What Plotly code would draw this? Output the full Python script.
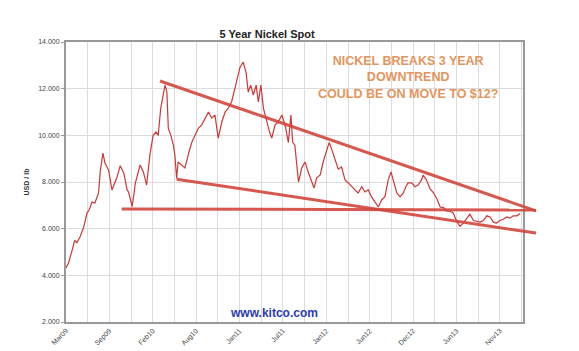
import plotly.graph_objects as go

# trading-day index since early Mar 2009
day_idx = [0, 7, 17, 24, 30, 39, 49, 58, 64, 72, 80, 90, 95, 102, 108, 118, 127, 135, 141, 150,
           160, 169, 173, 183, 192, 201, 205, 214, 223, 232, 241, 249, 255, 262, 269, 274, 279, 283,
           290, 297, 301, 306, 310, 320, 329, 338, 348, 357, 366, 375, 384, 394, 403, 412, 421, 431,
           440, 449, 458, 463, 472, 481, 490, 498, 504, 511, 518, 526, 532, 539, 546, 555, 563, 569,
           578, 587, 597, 606, 615, 622, 627, 633, 638, 643, 652, 661, 670, 680, 686, 693, 703, 712,
           721, 728, 735, 744, 753, 762, 772, 781, 790, 799, 808, 818, 827, 836, 845, 855, 864, 873,
           882, 891, 899, 905, 915, 924, 933, 940, 946, 956, 965, 974, 983, 988, 997, 1007, 1016,
           1025, 1035, 1044, 1053, 1062, 1071, 1081, 1090, 1099, 1108, 1117, 1127, 1136, 1145, 1154,
           1164, 1173, 1182, 1191, 1200, 1209, 1219, 1228, 1237, 1247, 1256]
price = [4.31, 4.53, 5.08, 5.5, 5.4, 5.65, 6.07, 6.67, 6.8, 7.14, 7.1, 7.53, 8.5, 9.24, 8.8, 8.5,
         7.66, 7.96, 8.2, 8.7, 8.38, 7.66, 7.57, 6.95, 7.96, 8.5, 8.73, 8.43, 7.87, 9.16, 10.0, 10.14,
         10.0, 11.17, 11.73, 12.15, 11.86, 10.3, 10.0, 9.58, 9.16, 8.15, 8.86, 8.73, 8.6, 9.16, 9.7,
         10.0, 10.3, 10.44, 10.74, 11.0, 10.74, 10.87, 9.88, 10.57, 11.0, 11.17, 11.43, 11.73, 12.3,
         12.9, 13.14, 12.7, 11.86, 12.15, 11.73, 12.15, 11.43, 12.15, 11.17, 10.57, 10.14, 9.88,
         10.44, 10.57, 10.87, 10.44, 9.7, 10.87, 9.7, 9.58, 8.73, 8.0, 8.6, 8.86, 8.43, 8.0, 7.74,
         8.17, 8.3, 8.9, 9.3, 9.7, 9.4, 8.94, 8.55, 8.64, 8.08, 7.96, 7.8, 7.66, 7.53, 7.8, 7.57,
         7.66, 7.36, 7.14, 6.93, 7.23, 7.36, 8.08, 8.43, 8.08, 7.53, 7.36, 7.53, 7.8, 7.96, 7.96,
         7.8, 7.87, 8.08, 8.3, 8.08, 7.7, 7.55, 7.3, 6.93, 6.9, 6.75, 6.75, 6.67, 6.3, 6.1, 6.24,
         6.45, 6.62, 6.35, 6.3, 6.28, 6.35, 6.55, 6.5, 6.28, 6.24, 6.35, 6.4, 6.5, 6.45, 6.55, 6.55,
         6.65]

x_tick_idx = [0, 120, 240, 360, 480, 600, 720, 840, 960, 1080, 1200]
x_tick_labels = ["Mar09", "Sep09", "Feb10", "Aug10", "Jan11", "Jul11", "Jan12", "Jun12",
                 "Dec12", "Jun13", "Nov13"]
y_tick_vals = [2, 4, 6, 8, 10, 12, 14]
y_tick_labels = ["2.000", "4.000", "6.000", "8.000", "10.000", "12.000", "14.000"]

# hand-drawn trendlines (start day, start price, end day, end price)
trend_upper = [260, 12.33, 1300, 6.76]
trend_lower = [306, 8.12, 1300, 5.81]
trend_flat = [154, 6.84, 1300, 6.80]

X_RANGE = [0, 1264]
Y_RANGE = [2, 14]

fig = go.Figure()
fig.add_trace(go.Scatter(x=day_idx, y=price, mode="lines",
                         line=dict(color="rgb(205,55,55)", width=1.2), showlegend=False))


def to_paper(x, y):
    return ((x - X_RANGE[0]) / (X_RANGE[1] - X_RANGE[0]),
            (y - Y_RANGE[0]) / (Y_RANGE[1] - Y_RANGE[0]))


for t in (trend_upper, trend_lower, trend_flat):
    x0, y0 = to_paper(t[0], t[1])
    x1, y1 = to_paper(t[2], t[3])
    fig.add_shape(type="line", xref="paper", yref="paper", x0=x0, y0=y0, x1=x1, y1=y1,
                  line=dict(color="rgba(210,70,60,0.9)", width=3), layer="above")

fig.update_layout(
    width=579, height=351,
    margin=dict(l=66, r=56, t=42, b=29),
    paper_bgcolor="white", plot_bgcolor="white",
    font=dict(family="Liberation Sans, Arial, sans-serif", color="#333"),
    title=dict(text="<b>5 Year Nickel Spot</b>", x=(267 - 66) / 457, xref="paper",
               xanchor="center", y=1, yref="paper", yanchor="bottom", pad=dict(b=4),
               font=dict(size=11, color="#222")),
    xaxis=dict(range=X_RANGE, tickmode="array", tickvals=x_tick_idx, ticktext=x_tick_labels,
               tickangle=-45, tickfont=dict(size=7, color="#444"),
               showgrid=True, gridcolor="#dcdcdc", gridwidth=1,
               minor=dict(tick0=0, dtick=60, showgrid=True, gridcolor="#dcdcdc", ticks=""),
               showline=True, linecolor="#999", linewidth=2, mirror=True,
               ticks="", zeroline=False, automargin=False),
    yaxis=dict(range=Y_RANGE, tickmode="array", tickvals=y_tick_vals, ticktext=y_tick_labels,
               tickfont=dict(size=7, color="#444"), ticks="outside", ticklen=3,
               tickcolor="#999", showgrid=True, gridcolor="#dcdcdc",
               showline=True, linecolor="#999", linewidth=2, mirror=True,
               zeroline=False, automargin=False,
               title=dict(text="<b>USD / lb</b>", font=dict(size=7, color="#333"), standoff=8)),
    annotations=[
        dict(text="<b>NICKEL BREAKS 3 YEAR<br>DOWNTREND<br>COULD BE ON MOVE TO $12?</b>",
             xref="paper", yref="paper", x=(408 - 66) / 457, y=(322 - 77.5) / 280,
             xanchor="center", yanchor="middle", showarrow=False, align="center",
             font=dict(size=12.5, color="#e3955c")),
        dict(text="<b>www.kitco.com</b>", xref="paper", yref="paper",
             x=(274 - 66) / 457, y=(322 - 313) / 280, xanchor="center", yanchor="middle",
             showarrow=False, font=dict(size=12, color="#2b3cb0")),
    ],
)

fig.write_html("out.html")
